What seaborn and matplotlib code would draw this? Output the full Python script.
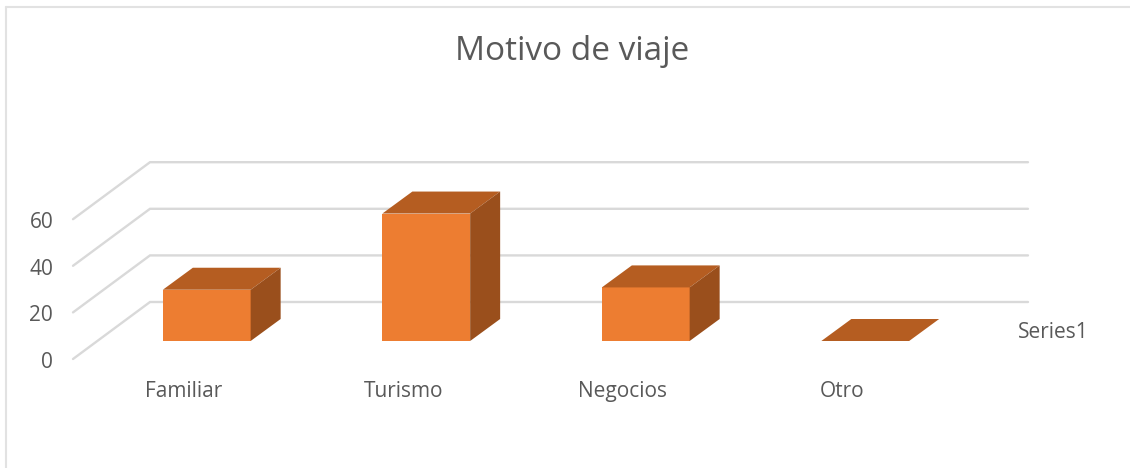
import matplotlib
matplotlib.use("Agg")
import matplotlib.pyplot as plt
from matplotlib.lines import Line2D
from matplotlib.patches import Polygon
from matplotlib.transforms import ScaledTranslation
import seaborn as sns

categorias = ["Familiar", "Turismo", "Negocios", "Otro"]
valores = [22, 54.7, 23, 0]
ticks = [0, 20, 40, 60]
titulo = "Motivo de viaje"
serie = "Series1"

W, H = 1130, 468
color_frente = "#ED7D31"
color_arriba = "#B55D21"
color_lado = "#9A4F1C"
color_grid = "#D9D9D9"
color_texto = "#595959"

sns.set_theme(style="white")
plt.rcParams['font.family'] = ['Open Sans', 'DejaVu Sans']

fig = plt.figure(figsize=(W / 100, H / 100), dpi=100, facecolor="white")
# eje = plano donde se apoyan las barras, medido en pixeles de la referencia
izq, der, base, techo = 97, 975, 341, 162
ax = fig.add_axes([izq / W, (H - base) / H, (der - izq) / W, (base - techo) / H])

px_x = (der - izq) / len(categorias)
px_y = 2.33

sns.barplot(x=categorias, y=valores, color=color_frente, saturation=1, width=0.4, ax=ax, zorder=3,
            linewidth=0)
ax.set_xlim(-0.5, 3.5)
ax.set_ylim(0, (base - techo) / px_y)
ax.set_xlabel("")
ax.set_ylabel("")
sns.despine(ax=ax, left=True, bottom=True)

# profundidad de las barras
prof_x = 30 / px_x
prof_y = 22 / px_y
for barra in ax.patches[:len(categorias)]:
    x0 = barra.get_x()
    x1 = x0 + barra.get_width()
    y1 = barra.get_height()
    ax.add_patch(Polygon([(x0, y1), (x1, y1), (x1 + prof_x, y1 + prof_y), (x0 + prof_x, y1 + prof_y)],
                         facecolor=color_arriba, edgecolor="none", clip_on=False, zorder=4))
    if y1 > 0:
        ax.add_patch(Polygon([(x1, 0), (x1 + prof_x, prof_y), (x1 + prof_x, y1 + prof_y), (x1, y1)],
                             facecolor=color_lado, edgecolor="none", clip_on=False, zorder=4))

# paredes: lineas de grid del frente hacia el fondo y a la derecha
frente_x = -0.5 - 24 / px_x
frente_y = -18 / px_y
fondo_x = -0.5 + 53 / px_x
fondo_y = 39 / px_y
fin_x = 3.5 + 53 / px_x
for t in ticks:
    ax.plot([frente_x, fondo_x, fin_x], [t + frente_y, t + fondo_y, t + fondo_y],
            color=color_grid, lw=1.7, clip_on=False, zorder=1, solid_joinstyle="miter")

ax.set_yticks(ticks)
ax.tick_params(axis="y", length=0, labelsize=15, labelcolor=color_texto)
ax.tick_params(axis="x", length=0, labelsize=15, labelcolor=color_texto)
for lab in ax.get_yticklabels():
    lab.set_transform(lab.get_transform() + ScaledTranslation(-39 / 100, -19 / 100, fig.dpi_scale_trans))
for lab in ax.get_xticklabels():
    lab.set_transform(lab.get_transform() + ScaledTranslation(-23 / 100, -35 / 100, fig.dpi_scale_trans))

fig.text(572 / W, 1 - 52 / H, titulo, fontsize=24, color=color_texto, ha="center", va="center")
fig.text(1018 / W, 1 - 332 / H, serie, fontsize=15, color=color_texto, ha="left", va="center")

# marco del grafico
borde = "#E2E2E2"
fig.add_artist(Line2D([5.5 / W, 5.5 / W], [0, 1 - 6.5 / H], color=borde, lw=1.5))
fig.add_artist(Line2D([5.5 / W, 1], [1 - 6.5 / H, 1 - 6.5 / H], color=borde, lw=1.5))

fig.savefig("out.png", dpi=100, facecolor="white")
